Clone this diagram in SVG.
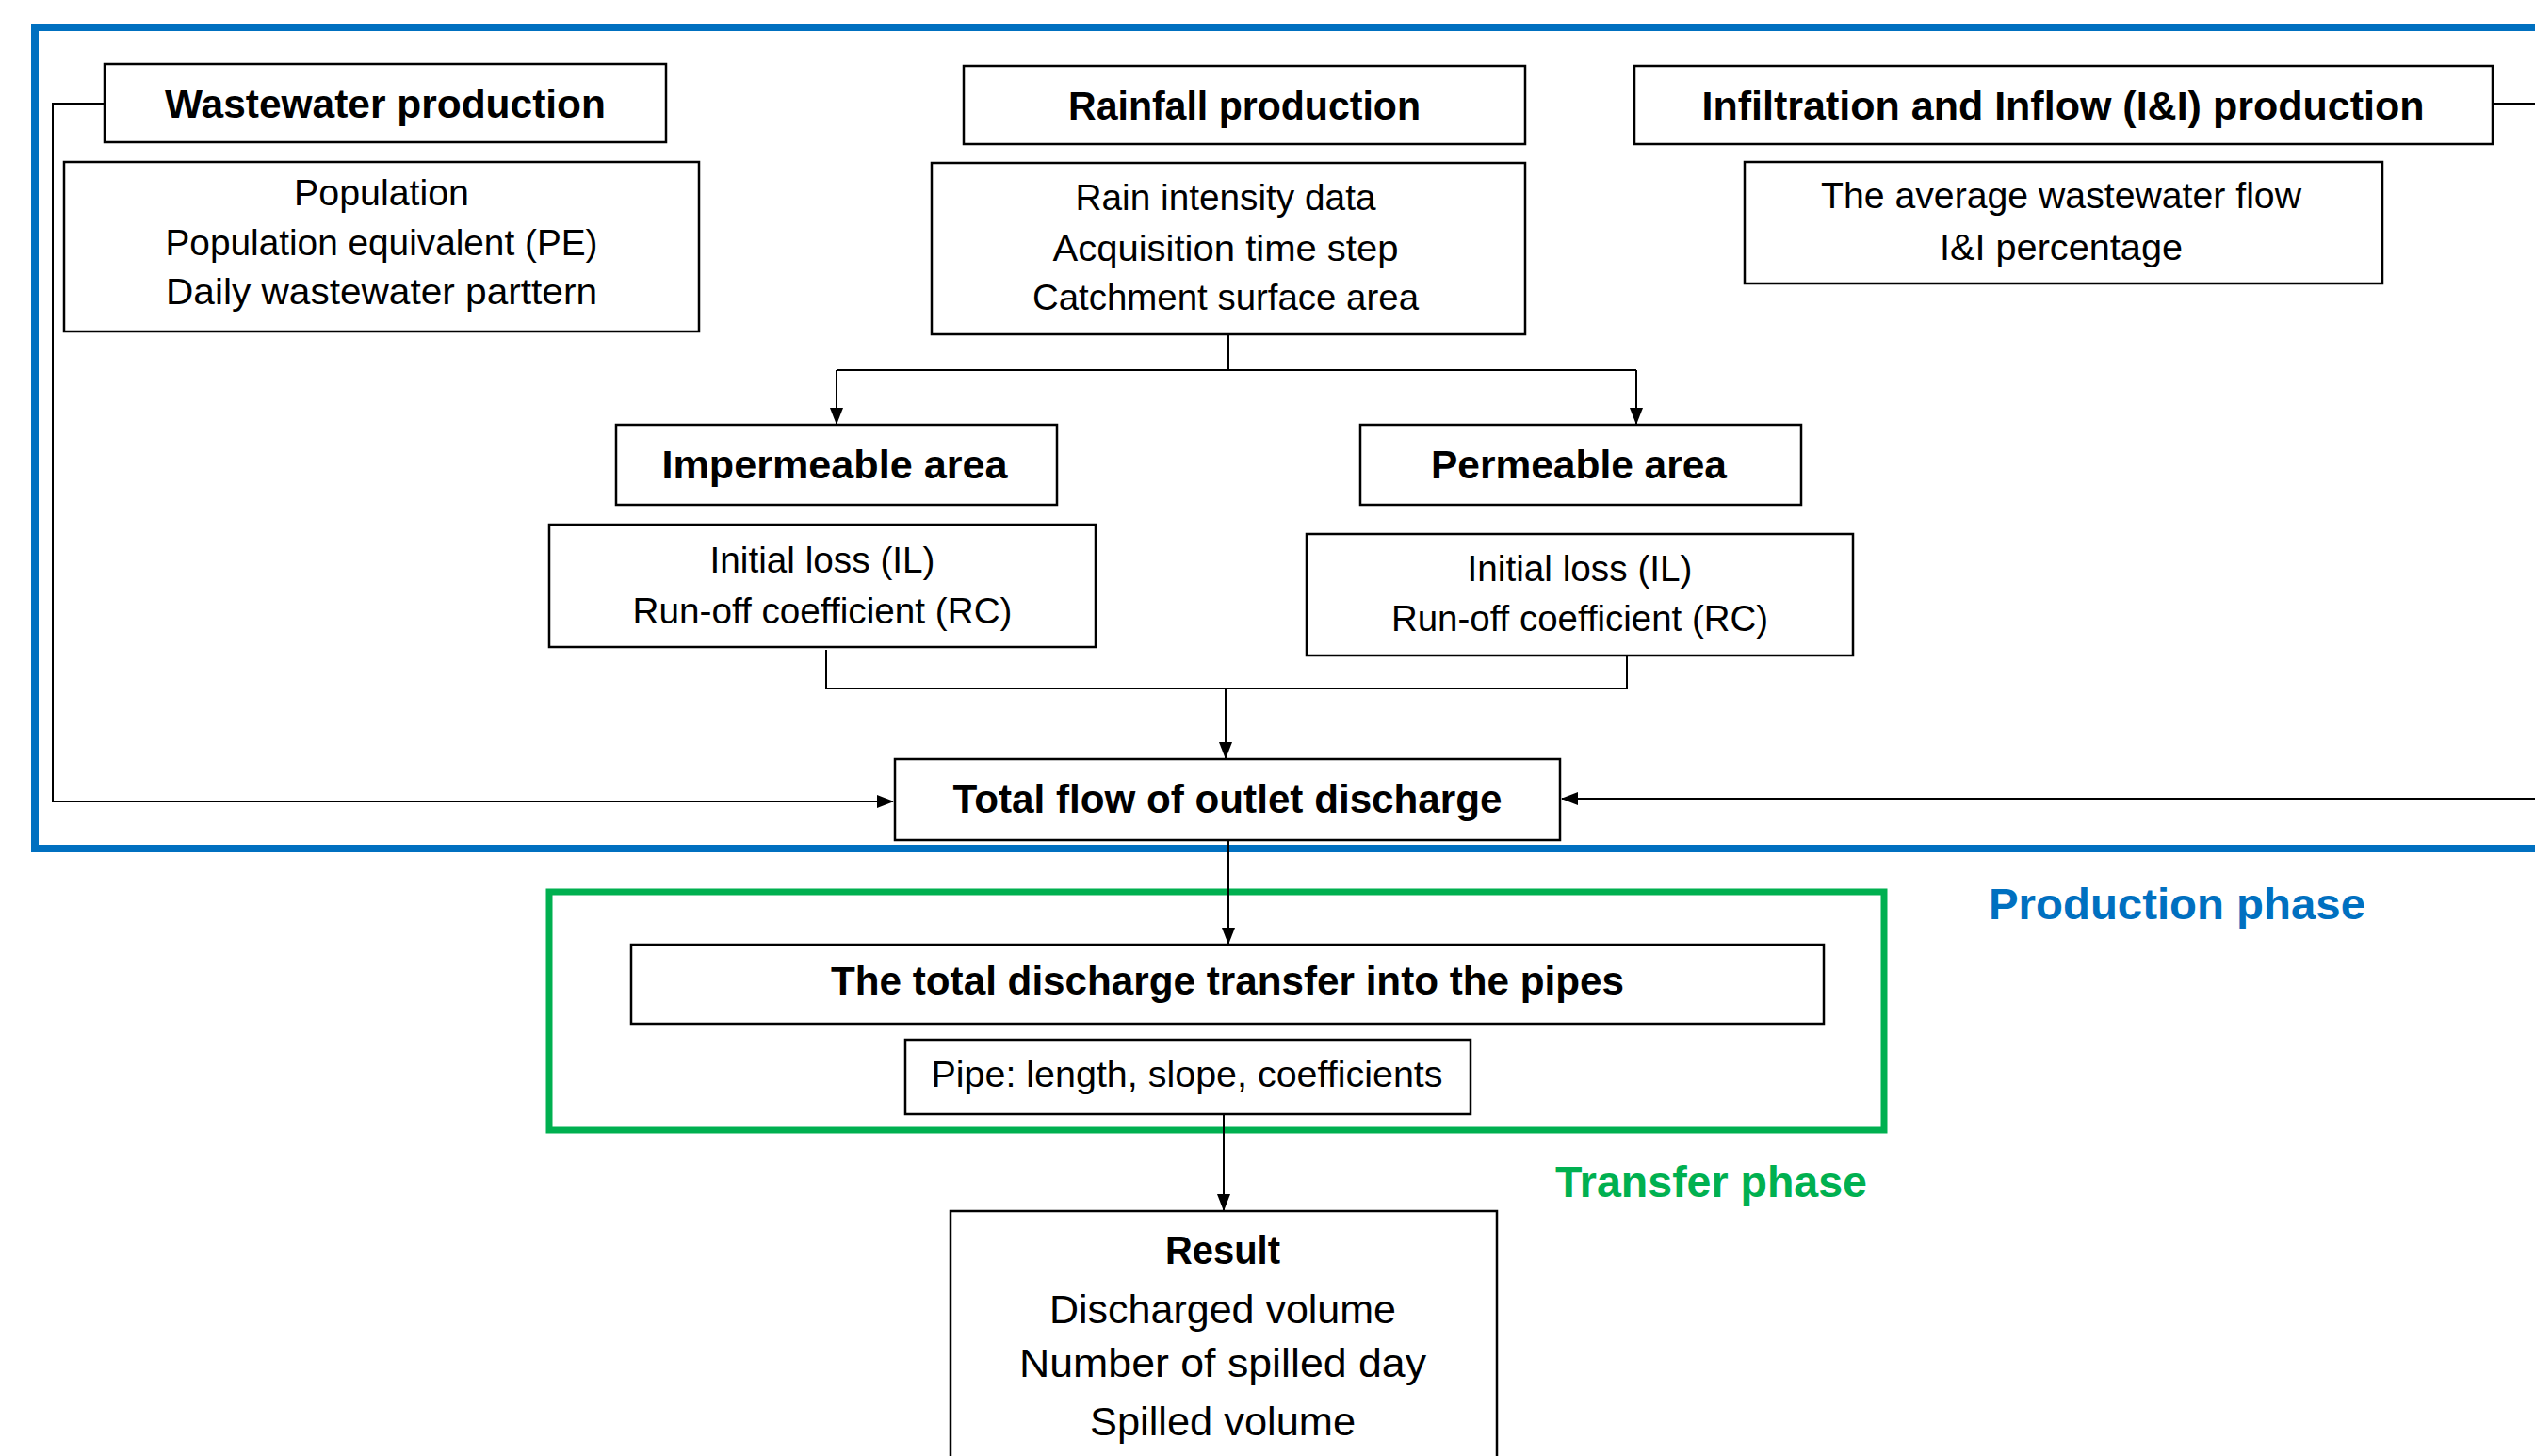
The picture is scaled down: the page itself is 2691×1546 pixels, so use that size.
<svg xmlns="http://www.w3.org/2000/svg" width="2691" height="1546" viewBox="0 0 2691 1546">
<defs>
<style>
.box{fill:#fff;stroke:#000;stroke-width:2.5}
.conn{fill:none;stroke:#000;stroke-width:2}
.h{font-family:"Liberation Sans",Arial,sans-serif;font-weight:bold;font-size:42px;fill:#000;text-anchor:middle}
.b{font-family:"Liberation Sans",Arial,sans-serif;font-size:39px;fill:#000;text-anchor:middle}
.r{font-family:"Liberation Sans",Arial,sans-serif;font-size:43px;fill:#000;text-anchor:middle}
.phase{font-family:"Liberation Sans",Arial,sans-serif;font-weight:bold;font-size:47px}
</style>
<marker id="arr" markerUnits="userSpaceOnUse" markerWidth="18" markerHeight="14" refX="17" refY="7" orient="auto">
<path d="M0,0 L18,7 L0,14 Z" fill="#000"/>
</marker>
</defs>
<rect width="2691" height="1546" fill="#fff"/>

<g id="production-phase">
<rect x="37" y="29" width="2700" height="872" fill="none" stroke="#0070C0" stroke-width="8"/>
<text class="phase" x="2111" y="976" fill="#0070C0" textLength="400" lengthAdjust="spacingAndGlyphs">Production phase</text>
</g>
<g id="transfer-phase">
<rect x="583" y="947" width="1417" height="253" fill="none" stroke="#00B050" stroke-width="7"/>
<text class="phase" x="1651" y="1271" fill="#00B050" textLength="331" lengthAdjust="spacingAndGlyphs">Transfer phase</text>
</g>

<g id="connectors">
<path class="conn" d="M111,110 H56 V851 H948" marker-end="url(#arr)"/>
<path class="conn" d="M2646,110 H2730 V848 H1658" marker-end="url(#arr)"/>
<path class="conn" d="M1304,355 V393"/>
<path class="conn" d="M888,393 H1737"/>
<path class="conn" d="M888,393 V450" marker-end="url(#arr)"/>
<path class="conn" d="M1737,393 V450" marker-end="url(#arr)"/>
<path class="conn" d="M877,690 V731 H1727 V696"/>
<path class="conn" d="M1301,731 V805" marker-end="url(#arr)"/>
<path class="conn" d="M1304,892 V1002" marker-end="url(#arr)"/>
<path class="conn" d="M1299,1183 V1285" marker-end="url(#arr)"/>
</g>

<g id="wastewater-production">
<rect class="box" x="111" y="68" width="596" height="83"/>
<text class="h" x="409" y="125" textLength="468" lengthAdjust="spacingAndGlyphs">Wastewater production</text>
</g>
<g id="wastewater-params">
<rect class="box" x="68" y="172" width="674" height="180"/>
<text class="b" x="405" y="218" textLength="186" lengthAdjust="spacingAndGlyphs">Population</text>
<text class="b" x="405" y="271" textLength="459" lengthAdjust="spacingAndGlyphs">Population equivalent (PE)</text>
<text class="b" x="405" y="323" textLength="458" lengthAdjust="spacingAndGlyphs">Daily wastewater parttern</text>
</g>

<g id="rainfall-production">
<rect class="box" x="1023" y="70" width="596" height="83"/>
<text class="h" x="1321" y="127" textLength="374" lengthAdjust="spacingAndGlyphs">Rainfall production</text>
</g>
<g id="rainfall-params">
<rect class="box" x="989" y="173" width="630" height="182"/>
<text class="b" x="1301" y="223" textLength="319" lengthAdjust="spacingAndGlyphs">Rain intensity data</text>
<text class="b" x="1301" y="277" textLength="367" lengthAdjust="spacingAndGlyphs">Acquisition time step</text>
<text class="b" x="1301" y="329" textLength="410" lengthAdjust="spacingAndGlyphs">Catchment surface area</text>
</g>

<g id="ii-production">
<rect class="box" x="1735" y="70" width="911" height="83"/>
<text class="h" x="2190" y="127" textLength="767" lengthAdjust="spacingAndGlyphs">Infiltration and Inflow (I&amp;I) production</text>
</g>
<g id="ii-params">
<rect class="box" x="1852" y="172" width="677" height="129"/>
<text class="b" x="2188" y="221" textLength="510" lengthAdjust="spacingAndGlyphs">The average wastewater flow</text>
<text class="b" x="2188" y="276" textLength="258" lengthAdjust="spacingAndGlyphs">I&amp;I percentage</text>
</g>

<g id="impermeable-area">
<rect class="box" x="654" y="451" width="468" height="85"/>
<text class="h" x="886" y="508" textLength="367" lengthAdjust="spacingAndGlyphs">Impermeable area</text>
</g>
<g id="impermeable-params">
<rect class="box" x="583" y="557" width="580" height="130"/>
<text class="b" x="873" y="608" textLength="239" lengthAdjust="spacingAndGlyphs">Initial loss (IL)</text>
<text class="b" x="873" y="662" textLength="403" lengthAdjust="spacingAndGlyphs">Run-off coefficient (RC)</text>
</g>

<g id="permeable-area">
<rect class="box" x="1444" y="451" width="468" height="85"/>
<text class="h" x="1676" y="508" textLength="314" lengthAdjust="spacingAndGlyphs">Permeable area</text>
</g>
<g id="permeable-params">
<rect class="box" x="1387" y="567" width="580" height="129"/>
<text class="b" x="1677" y="617" textLength="239" lengthAdjust="spacingAndGlyphs">Initial loss (IL)</text>
<text class="b" x="1677" y="670" textLength="400" lengthAdjust="spacingAndGlyphs">Run-off coefficient (RC)</text>
</g>

<g id="total-flow">
<rect class="box" x="950" y="806" width="706" height="86"/>
<text class="h" x="1303" y="863" textLength="583" lengthAdjust="spacingAndGlyphs">Total flow of outlet discharge</text>
</g>

<g id="transfer-pipes">
<rect class="box" x="670" y="1003" width="1266" height="84"/>
<text class="h" x="1303" y="1056" textLength="842" lengthAdjust="spacingAndGlyphs">The total discharge transfer into the pipes</text>
</g>
<g id="pipe-params">
<rect class="box" x="961" y="1104" width="600" height="79"/>
<text class="b" x="1260" y="1154" textLength="543" lengthAdjust="spacingAndGlyphs">Pipe: length, slope, coefficients</text>
</g>

<g id="result">
<rect class="box" x="1009" y="1286" width="580" height="290"/>
<text class="h" x="1298" y="1342" textLength="122" lengthAdjust="spacingAndGlyphs">Result</text>
<text class="r" x="1298" y="1405" textLength="368" lengthAdjust="spacingAndGlyphs">Discharged volume</text>
<text class="r" x="1298" y="1462" textLength="432" lengthAdjust="spacingAndGlyphs">Number of spilled day</text>
<text class="r" x="1298" y="1524" textLength="282" lengthAdjust="spacingAndGlyphs">Spilled volume</text>
</g>
</svg>
